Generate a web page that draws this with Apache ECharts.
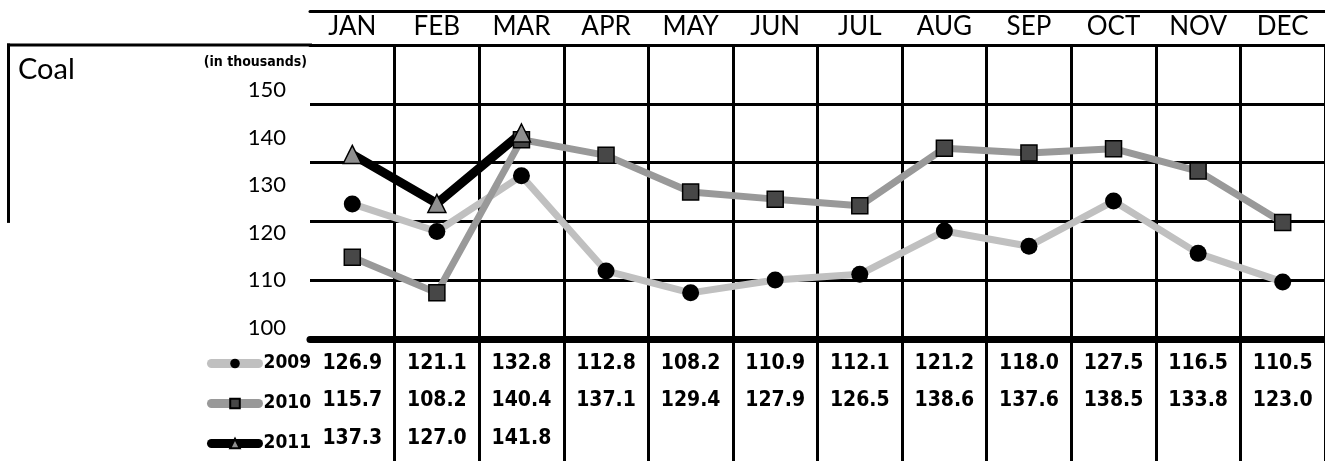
<!DOCTYPE html>
<html>
<head>
<meta charset="utf-8">
<style>
    html, body { margin: 0; padding: 0; background: #fff; }
    #chart { width: 1325px; height: 461px; }
</style>
<script src="https://cdn.jsdelivr.net/npm/echarts@6/dist/echarts.min.js"></script>
</head>
<body>
<div id="chart"></div>
<script>
// 数据
const months = ['JAN', 'FEB', 'MAR', 'APR', 'MAY', 'JUN', 'JUL', 'AUG', 'SEP', 'OCT', 'NOV', 'DEC'];
const coal2009 = [126.9, 121.1, 132.8, 112.8, 108.2, 110.9, 112.1, 121.2, 118.0, 127.5, 116.5, 110.5];
const coal2010 = [115.7, 108.2, 140.4, 137.1, 129.4, 127.9, 126.5, 138.6, 137.6, 138.5, 133.8, 123.0];
const coal2011 = [137.3, 127.0, 141.8];
const yTicks = [100, 110, 120, 130, 140, 150];
const tableRows = 5;

const fontLight = 'Lato, "Open Sans", sans-serif';
const fontBold = '"DejaVu Sans Condensed", "DejaVu Sans", sans-serif';

// 表格数值文字
function rowLabels(values) {
    return months.map((m, i) => i < values.length ? values[i].toFixed(1) : '');
}

// 第一列左边不画竖线
const skipFirst = function(index) { return index > 0; };

const black = '#000';

function valueAxis(values, margin, withLine) {
    return {
        type: 'category',
        data: rowLabels(values),
        position: 'bottom',
        boundaryGap: true,
        axisLine: { show: withLine, onZero: false, lineStyle: { color: black, width: 7 } },
        axisTick: {
            show: withLine,
            length: 122,
            interval: skipFirst,
            lineStyle: { color: black, width: 3 }
        },
        axisLabel: {
            interval: 0,
            margin: margin,
            verticalAlign: 'middle',
            fontFamily: fontBold,
            fontWeight: 'bold',
            fontSize: 21,
            color: black
        },
        splitLine: { show: false }
    };
}

const chart = echarts.init(document.getElementById('chart'));

const option = {
    animation: false,
    backgroundColor: '#fff',
    title: {
        text: 'Coal',
        left: 18,
        top: 55,
        padding: 0,
        textStyle: { fontFamily: fontLight, fontWeight: 'normal', fontSize: 29, color: black }
    },
    legend: {
        orient: 'vertical',
        left: 207,
        top: 354,
        padding: 0,
        itemWidth: 47,
        itemHeight: 12,
        itemGap: 21,
        data: ['2009', '2010', '2011'],
        lineStyle: { width: 9, cap: 'round' },
        textStyle: { fontFamily: fontBold, fontWeight: 'bold', fontSize: 19, color: black }
    },
    grid: { left: 310, top: 45, width: 1024, height: 294 },
    xAxis: [
        {
            type: 'category',
            data: months,
            position: 'top',
            boundaryGap: true,
            axisLine: { onZero: false, lineStyle: { color: black, width: 3 } },
            axisTick: { length: 34, interval: skipFirst, lineStyle: { color: black, width: 3 } },
            axisLabel: {
                interval: 0,
                margin: 18,
                verticalAlign: 'middle',
                fontFamily: fontLight,
                fontSize: 26,
                color: black
            },
            splitLine: { show: true, interval: skipFirst, lineStyle: { color: black, width: 3 } }
        },
        {
            type: 'category',
            data: months,
            position: 'top',
            offset: 34,
            axisLine: { onZero: false, lineStyle: { color: black, width: 3 } },
            axisTick: { show: false },
            axisLabel: { show: false },
            splitLine: { show: false }
        },
        valueAxis(coal2009, 25, true),
        valueAxis(coal2010, 62, false),
        valueAxis(coal2011, 100, false)
    ],
    yAxis: [
        {
            type: 'value',
            min: 98.5,
            max: 160.3,
            position: 'left',
            name: '(in thousands)',
            nameLocation: 'end',
            nameGap: -17,
            nameTextStyle: {
                align: 'right',
                verticalAlign: 'middle',
                padding: [0, 3, 0, 0],
                fontFamily: fontBold,
                fontWeight: 'bold',
                fontSize: 14,
                color: black
            },
            axisLine: { show: false },
            axisTick: { show: false },
            splitLine: { show: false },
            axisLabel: {
                customValues: yTicks,
                margin: 24,
                verticalAlign: 'bottom',
                lineHeight: 8,
                fontFamily: fontLight,
                fontSize: 22,
                color: black
            }
        },
        {
            type: 'value',
            min: 0,
            max: tableRows,
            interval: 1,
            position: 'left',
            axisLine: { show: false },
            axisTick: { show: false },
            axisLabel: { show: false },
            splitLine: { show: true, lineStyle: { color: black, width: 3 } }
        }
    ],
    series: [
        {
            name: '2009',
            type: 'line',
            data: coal2009,
            symbol: 'circle',
            symbolSize: 17,
            lineStyle: { color: '#c0c0c0', width: 7, cap: 'round' },
            itemStyle: { color: black }
        },
        {
            name: '2010',
            type: 'line',
            data: coal2010,
            symbol: 'rect',
            symbolSize: 16,
            lineStyle: { color: '#999', width: 7, cap: 'round' },
            itemStyle: { color: '#474747', borderColor: black, borderWidth: 1.5 }
        },
        {
            name: '2011',
            type: 'line',
            data: coal2011,
            symbol: 'triangle',
            symbolSize: 18,
            lineStyle: { color: black, width: 9, cap: 'round' },
            itemStyle: { color: '#8f8f8f', borderColor: black, borderWidth: 1.5 }
        }
    ]
};

chart.setOption(option);

// 左上角 Coal 框线
const rowTop = chart.convertToPixel({ yAxisIndex: 1 }, tableRows);
const rowMid = chart.convertToPixel({ yAxisIndex: 1 }, 2);
chart.setOption({
    graphic: [
        {
            type: 'line',
            shape: { x1: 7, y1: rowTop, x2: 312, y2: rowTop },
            style: { stroke: black, lineWidth: 3 }
        },
        {
            type: 'line',
            shape: { x1: 8.5, y1: rowTop - 1.5, x2: 8.5, y2: rowMid + 1.5 },
            style: { stroke: black, lineWidth: 3 }
        }
    ]
});
</script>
</body>
</html>
